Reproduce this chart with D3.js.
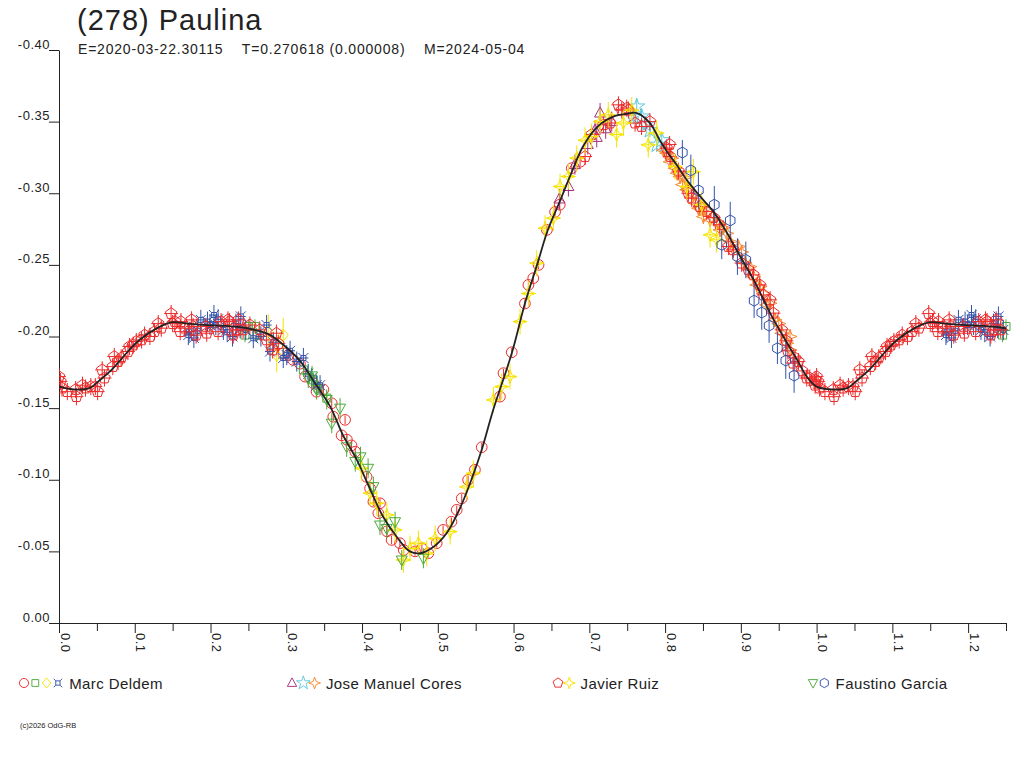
<!DOCTYPE html>
<html>
<head>
<meta charset="utf-8">
<script src="https://cdn.jsdelivr.net/npm/d3@7"></script>
<style>
body{margin:0;background:#fff;}
</style>
</head>
<body>
<div class="canvas"></div>
<script>
// (278) Paulina - phased lightcurve

const titleText = '(278) Paulina';
const subTitle = 'E=2020-03-22.30115    T=0.270618 (0.000008)    M=2024-05-04';
const creditText = '(c)2026 OdG-RB';

const xMajorTicks = [0,0.1,0.2,0.3,0.4,0.5,0.6,0.7,0.8,0.9,1.0,1.1,1.2];
const xMinorTicks = [0.05,0.15,0.25,0.35,0.45,0.55,0.65,0.75,0.85,0.95,1.05,1.15,1.25];
const yTicks = [0,-0.05,-0.10,-0.15,-0.20,-0.25,-0.30,-0.35,-0.40];

// fitted curve, one period
const fitPhase = [0.000,0.020,0.040,0.055,0.070,0.085,0.105,0.130,0.150,0.170,0.195,0.240,0.275,0.292,0.318,0.336,0.358,0.375,0.393,0.411,0.428,0.446,0.463,0.477,0.494,0.512,0.530,0.545,0.558,0.573,0.598,0.615,0.631,0.645,0.660,0.677,0.692,0.712,0.734,0.750,0.763,0.780,0.793,0.802,0.815,0.829,0.846,0.864,0.881,0.899,0.917,0.939,0.956,0.974,0.987];
const fitMag = [-0.165,-0.163,-0.164,-0.170,-0.177,-0.186,-0.197,-0.206,-0.210,-0.209,-0.208,-0.2065,-0.202,-0.196,-0.183,-0.169,-0.151,-0.131,-0.114,-0.093,-0.074,-0.060,-0.050,-0.0487,-0.053,-0.063,-0.081,-0.101,-0.121,-0.1485,-0.189,-0.223,-0.250,-0.274,-0.293,-0.315,-0.333,-0.347,-0.354,-0.3555,-0.356,-0.349,-0.337,-0.3295,-0.320,-0.309,-0.298,-0.287,-0.273,-0.256,-0.2395,-0.216,-0.200,-0.184,-0.172];

const observers = ['Marc Deldem','Jose Manuel Cores','Javier Ruiz','Faustino Garcia'];

// observations [phase, mag]
const deldemCircle = [[0.296,-0.1883],[0.3027,-0.187],[0.309,-0.1837],[0.318,-0.181],[0.3248,-0.172],[0.3357,-0.1674],[0.340,-0.1615],[0.349,-0.163],[0.360,-0.1534],[0.362,-0.144],[0.3776,-0.1418],[0.373,-0.131],[0.380,-0.128],[0.386,-0.124],[0.391,-0.1196],[0.406,-0.102],[0.4106,-0.094],[0.415,-0.0847],[0.4215,-0.0766],[0.4237,-0.0836],[0.433,-0.064],[0.439,-0.058],[0.450,-0.0557],[0.455,-0.051],[0.470,-0.050],[0.479,-0.052],[0.4875,-0.0487],[0.4986,-0.0557],[0.507,-0.065],[0.518,-0.0707],[0.525,-0.079],[0.5316,-0.087],[0.540,-0.0999],[0.549,-0.107],[0.558,-0.1227],[0.582,-0.158],[0.5867,-0.1744],[0.5976,-0.189],[0.615,-0.223],[0.6196,-0.236],[0.626,-0.2407],[0.633,-0.250],[0.644,-0.2744],[0.6548,-0.287],[0.661,-0.292],[0.6768,-0.3175],[0.6878,-0.322]];
const deldemSquare = [[0.2455,-0.201],[0.250,-0.207],[0.2587,-0.207],[0.261,-0.201],[0.3226,-0.1767],[0.3357,-0.1697],[0.342,-0.164],[0.3534,-0.157]];
const deldemDiamond = [[0.2763,-0.2034],[0.2874,-0.187],[0.296,-0.201]];
const deldemCross = [[0.1707,-0.201],[0.1718,-0.2034],[0.178,-0.199],[0.183,-0.204],[0.1872,-0.2116],[0.196,-0.2104],[0.1993,-0.208],[0.2045,-0.215],[0.207,-0.208],[0.210,-0.212],[0.217,-0.2046],[0.222,-0.203],[0.229,-0.200],[0.2335,-0.209],[0.239,-0.2058],[0.240,-0.214],[0.2465,-0.2046],[0.2565,-0.1988],[0.2665,-0.200],[0.274,-0.208],[0.2785,-0.1895],[0.283,-0.196],[0.296,-0.185],[0.3006,-0.187],[0.305,-0.190],[0.3138,-0.1825],[0.3226,-0.185],[0.329,-0.174],[0.3335,-0.171],[0.340,-0.166],[0.3446,-0.166]];

const coresTriangle = [[0.6605,-0.296],[0.6724,-0.3047],[0.681,-0.320],[0.698,-0.334],[0.7076,-0.344],[0.7098,-0.339],[0.7142,-0.356],[0.7216,-0.345],[0.7296,-0.350]];
const coresStar = [[0.758,-0.3535],[0.7626,-0.3605],[0.769,-0.3535],[0.7745,-0.348],[0.780,-0.344],[0.789,-0.3338],[0.7956,-0.337]];
const coresSpark = [[0.7978,-0.330],[0.802,-0.328],[0.8066,-0.322],[0.8088,-0.3245],[0.8132,-0.3175],[0.816,-0.314],[0.8198,-0.3117],[0.823,-0.306],[0.826,-0.311],[0.8286,-0.3024],[0.8374,-0.299],[0.840,-0.293],[0.844,-0.2896],[0.8506,-0.2837],[0.853,-0.289],[0.8594,-0.2814],[0.868,-0.280],[0.8726,-0.2744],[0.877,-0.276],[0.8814,-0.272],[0.886,-0.2663],[0.890,-0.2605],[0.8968,-0.2628],[0.901,-0.259],[0.9056,-0.2512],[0.912,-0.2488],[0.9166,-0.2418],[0.921,-0.236],[0.9254,-0.2349],[0.9298,-0.2302],[0.934,-0.222],[0.9386,-0.2232],[0.9452,-0.2116],[0.950,-0.209],[0.954,-0.2023],[0.9606,-0.1953],[0.965,-0.1906],[0.965,-0.200]];

const ruizPentagon = [[0.000,-0.172],[0.002,-0.1685],[0.004,-0.164],[0.011,-0.1615],[0.022,-0.163],[0.023,-0.158],[0.031,-0.166],[0.035,-0.164],[0.042,-0.165],[0.048,-0.165],[0.051,-0.1615],[0.057,-0.1767],[0.060,-0.171],[0.071,-0.179],[0.073,-0.186],[0.078,-0.1825],[0.082,-0.185],[0.091,-0.1895],[0.093,-0.193],[0.098,-0.194],[0.102,-0.1965],[0.109,-0.1976],[0.113,-0.201],[0.120,-0.200],[0.126,-0.2034],[0.131,-0.209],[0.135,-0.2058],[0.148,-0.216],[0.150,-0.209],[0.153,-0.2104],[0.160,-0.2034],[0.161,-0.2104],[0.166,-0.2058],[0.175,-0.2116],[0.177,-0.207],[0.181,-0.201],[0.194,-0.207],[0.195,-0.2023],[0.210,-0.2034],[0.214,-0.2104],[0.223,-0.2116],[0.225,-0.2104],[0.230,-0.201],[0.234,-0.2046],[0.237,-0.2116],[0.243,-0.2046],[0.252,-0.208],[0.265,-0.2046],[0.274,-0.1976],[0.282,-0.1906],[0.287,-0.2023],[0.2895,-0.195],
  [0.6944,-0.3256],[0.703,-0.341],[0.7186,-0.3478],[0.7274,-0.349],[0.7384,-0.3617],[0.7428,-0.358],[0.7494,-0.3594],[0.7516,-0.358],[0.7604,-0.349],[0.769,-0.3466],[0.780,-0.350],[0.802,-0.3315],[0.806,-0.334],[0.8066,-0.3256],[0.8176,-0.3154],[0.8308,-0.300],[0.835,-0.2966],[0.846,-0.2907],[0.855,-0.2872],[0.864,-0.283],[0.872,-0.278],[0.8836,-0.2628],[0.890,-0.2605],[0.901,-0.2512],[0.910,-0.2465],[0.9166,-0.243],[0.925,-0.236],[0.930,-0.229],[0.9386,-0.2256],[0.943,-0.2163],[0.954,-0.2046],[0.960,-0.197],[0.962,-0.190],[0.969,-0.1814],[0.9716,-0.185],[0.976,-0.1825],[0.981,-0.176],[0.987,-0.171],[0.991,-0.171],[0.998,-0.1697],[0.998,-0.166]];
const ruizSpark = [[0.3996,-0.108],[0.4106,-0.0906],[0.4194,-0.0836],[0.4326,-0.0754],[0.4436,-0.065],[0.4546,-0.044],[0.4634,-0.052],[0.4744,-0.0557],[0.4854,-0.0487],[0.4964,-0.059],[0.5163,-0.0638],[0.538,-0.095],[0.547,-0.1045],[0.5734,-0.1557],[0.5843,-0.165],[0.5953,-0.172],[0.6086,-0.2104],[0.6196,-0.230],[0.6306,-0.2512],[0.6416,-0.2756],[0.6526,-0.2826],[0.6614,-0.3047],[0.6724,-0.3117],[0.6834,-0.3245],[0.6944,-0.337],[0.703,-0.3396],[0.7142,-0.350],[0.725,-0.3547],[0.736,-0.341],[0.745,-0.349],[0.756,-0.358],[0.7778,-0.3338],[0.789,-0.342],[0.8132,-0.3187],[0.8286,-0.3047],[0.8374,-0.315],[0.8484,-0.292],[0.8594,-0.271],[0.868,-0.2675]];

const garciaTriangle = [[0.329,-0.171],[0.334,-0.1725],[0.340,-0.163],[0.3534,-0.156],[0.360,-0.1395],[0.371,-0.150],[0.3797,-0.123],[0.391,-0.1127],[0.398,-0.116],[0.408,-0.108],[0.415,-0.0952],[0.4237,-0.0684],[0.4325,-0.066],[0.4436,-0.0707],[0.4524,-0.044],[0.481,-0.0452]];
// [phase, mag, err]
const garciaHex = [[0.8228,-0.3284,0.0087],[0.834,-0.316,0.011],[0.844,-0.302,0.0128],[0.865,-0.292,0.013],[0.8748,-0.264,0.010],[0.886,-0.281,0.013],[0.8955,-0.2558,0.0128],[0.9066,-0.2535,0.0128],[0.9175,-0.225,0.012],[0.9276,-0.2167,0.012],[0.9373,-0.2076,0.012],[0.9483,-0.1918,0.011],[0.9593,-0.1832,0.0128],[0.9703,-0.1727,0.012]];

// colours
const cRed = '#ee2a2a', cGreen = '#4caa3a', cYellow = '#f5e400', cBlue = '#3352a8',
      cPurple = '#a3307c', cCyan = '#5ec8dc', cOrange = '#f7872e';

// marker shapes drawn at origin
const poly = (n, r, rot) => 'M' + d3.range(n).map(i => {
  const a = rot + i * 2 * Math.PI / n;
  return [r * Math.sin(a), -r * Math.cos(a)].join(',');
}).join('L') + 'Z';

const shapes = {
  circle: d3.symbol(d3.symbolCircle, 90)(),
  square: 'M-4,-4h8v8h-8Z',
  diamond: 'M0,-6L5,0L0,6L-5,0Z',
  cross: 'M-2.5,-2.5h5v5h-5Z M-2.5,-2.5l-2.5,-2.5 M2.5,-2.5l2.5,-2.5 M2.5,2.5l2.5,2.5 M-2.5,2.5l-2.5,2.5',
  triangle: 'M0,-6L5.5,4L-5.5,4Z',
  triangleDown: 'M0,6L5.5,-4L-5.5,-4Z',
  star: d3.symbol(d3.symbolStar, 80)(),
  spark: 'M0,-7L1.8,-1.8L7,0L1.8,1.8L0,7L-1.8,1.8L-7,0L-1.8,-1.8Z',
  pentagon: poly(5, 6, 0),
  hexagon: poly(6, 5.5, 0)
};

const series = [
  {data: deldemCircle, obs: 0, shape: 'circle', color: cRed, err: 0.003, hbar: 0},
  {data: deldemSquare, obs: 0, shape: 'square', color: cGreen, err: 0.005, hbar: 0},
  {data: deldemDiamond, obs: 0, shape: 'diamond', color: cYellow, err: 0.012, hbar: 0},
  {data: deldemCross, obs: 0, shape: 'cross', color: cBlue, err: 0.007, hbar: 5},
  {data: coresTriangle, obs: 1, shape: 'triangle', color: cPurple, err: 0.007, hbar: 0},
  {data: coresStar, obs: 1, shape: 'star', color: cCyan, err: 0.005, hbar: 0},
  {data: coresSpark, obs: 1, shape: 'spark', color: cOrange, err: 0.005, hbar: 0},
  {data: ruizPentagon, obs: 2, shape: 'pentagon', color: cRed, err: 0.006, hbar: 7},
  {data: ruizSpark, obs: 2, shape: 'spark', color: cYellow, err: 0.009, hbar: 7},
  {data: garciaTriangle, obs: 3, shape: 'triangleDown', color: cGreen, err: 0.007, hbar: 0},
  {data: garciaHex, obs: 3, shape: 'hexagon', color: cBlue, err: null, hbar: 0}
];

const width = 1024, height = 768;
const fontFam = '"Liberation Sans", Arial, sans-serif';
const ink = '#222';

const svg = d3.select('.canvas')
  .append('svg')
  .attr('width', width)
  .attr('height', height)
  .style('font-family', fontFam);

// scales
const x = d3.scaleLinear().domain([0, 1.25]).range([59, 1006]);
const y = d3.scaleLinear().domain([0, -0.40]).range([623, 50]);

// title
svg.append('text')
  .attr('x', 77).attr('y', 30)
  .attr('font-size', 29)
  .attr('fill', ink)
  .style('letter-spacing', '1px')
  .text(titleText);

svg.append('text')
  .attr('x', 78).attr('y', 54)
  .attr('font-size', 14)
  .attr('fill', ink)
  .style('white-space', 'pre')
  .style('letter-spacing', '0.8px')
  .text(subTitle);

// axes
const xAxisGroup = svg.append('g')
  .attr('transform', `translate(0,${y(0)})`)
  .attr('color', ink);
xAxisGroup.call(d3.axisBottom(x)
  .tickValues(xMajorTicks)
  .tickSize(10)
  .tickSizeOuter(0)
  .tickFormat(d => d.toFixed(1)));
xAxisGroup.selectAll('.tick text')
  .attr('transform', 'rotate(90)')
  .attr('text-anchor', 'start')
  .attr('x', 10)
  .attr('y', -1)
  .attr('dy', 0)
  .attr('font-size', 13)
  .attr('font-family', fontFam)
  .style('letter-spacing', '0.5px');

const xMinorGroup = svg.append('g')
  .attr('transform', `translate(0,${y(0)})`)
  .attr('color', ink);
xMinorGroup.call(d3.axisBottom(x)
  .tickValues(xMinorTicks)
  .tickSize(8)
  .tickSizeOuter(0)
  .tickFormat(''));
xMinorGroup.select('.domain').remove();

const yAxisGroup = svg.append('g')
  .attr('transform', `translate(${x(0)},0)`)
  .attr('color', ink);
yAxisGroup.call(d3.axisLeft(y)
  .tickValues(yTicks)
  .tickSize(10)
  .tickSizeOuter(0)
  .tickFormat(d => d.toFixed(2)));
yAxisGroup.selectAll('.tick text')
  .attr('x', -9)
  .attr('dy', -2)
  .attr('font-size', 13)
  .attr('font-family', fontFam)
  .style('letter-spacing', '0.5px');

// clips so the repeated part stops at the axis end
svg.append('clipPath').attr('id', 'plotClip')
  .append('rect')
  .attr('x', x(0)).attr('y', y(-0.40) - 20)
  .attr('width', x(1.25) - x(0) + 8)
  .attr('height', y(0) - y(-0.40) + 20);
svg.append('clipPath').attr('id', 'lineClip')
  .append('rect')
  .attr('x', x(0)).attr('y', y(-0.40))
  .attr('width', x(1.25) - x(0))
  .attr('height', y(0) - y(-0.40));

const plot = svg.append('g').attr('clip-path', 'url(#plotClip)');

// points, with phases below 0.25 shown again one period later
const withRepeat = data => data.concat(
  data.filter(d => d[0] <= 0.25).map(d => [d[0] + 1, d[1], d[2]]));

series.forEach(s => {
  const pts = withRepeat(s.data);
  const g = plot.append('g')
    .attr('stroke', s.color)
    .attr('fill', 'none')
    .attr('stroke-width', 1);

  g.selectAll('line.err')
    .data(pts)
    .enter()
    .append('line')
    .attr('class', 'err')
    .attr('x1', d => x(d[0]))
    .attr('x2', d => x(d[0]))
    .attr('y1', d => y(d[1] - (s.err === null ? d[2] : s.err)))
    .attr('y2', d => y(d[1] + (s.err === null ? d[2] : s.err)));

  if (s.hbar > 0) {
    g.selectAll('line.hbar')
      .data(pts)
      .enter()
      .append('line')
      .attr('class', 'hbar')
      .attr('x1', d => x(d[0]) - s.hbar)
      .attr('x2', d => x(d[0]) + s.hbar)
      .attr('y1', d => y(d[1]))
      .attr('y2', d => y(d[1]));
  }

  g.selectAll('path')
    .data(pts)
    .enter()
    .append('path')
    .attr('d', shapes[s.shape])
    .attr('transform', d => `translate(${x(d[0])},${y(d[1])})`);
});

// fitted curve over 1.25 periods
const fit = fitPhase.map((p, i) => [p, fitMag[i]]);
const fitLong = fit.concat(fit.filter(d => d[0] <= 0.3).map(d => [d[0] + 1, d[1]]));

const line = d3.line()
  .x(d => x(d[0]))
  .y(d => y(d[1]))
  .curve(d3.curveCatmullRom);

svg.append('path')
  .datum(fitLong)
  .attr('clip-path', 'url(#lineClip)')
  .attr('fill', 'none')
  .attr('stroke', ink)
  .attr('stroke-width', 1.8)
  .attr('d', line);

// legend
const legendX = [24, 292, 558, 813];
const legendY = 683;
const symGap = 11.3;

observers.forEach((name, i) => {
  const own = series.filter(s => s.obs === i);
  const g = svg.append('g').attr('transform', `translate(${legendX[i]},${legendY})`);
  own.forEach((s, j) => {
    g.append('path')
      .attr('d', shapes[s.shape])
      .attr('transform', `translate(${j * symGap},0) scale(0.85)`)
      .attr('fill', 'none')
      .attr('stroke', s.color)
      .attr('stroke-width', 1.1);
  });
  g.append('text')
    .attr('x', own.length * symGap)
    .attr('y', 5.5)
    .attr('font-size', 15)
    .attr('fill', ink)
    .style('letter-spacing', '0.4px')
    .text(name);
});

svg.append('text')
  .attr('x', 20).attr('y', 728)
  .attr('font-size', 7.5)
  .attr('fill', ink)
  .text(creditText);
</script>
</body>
</html>
